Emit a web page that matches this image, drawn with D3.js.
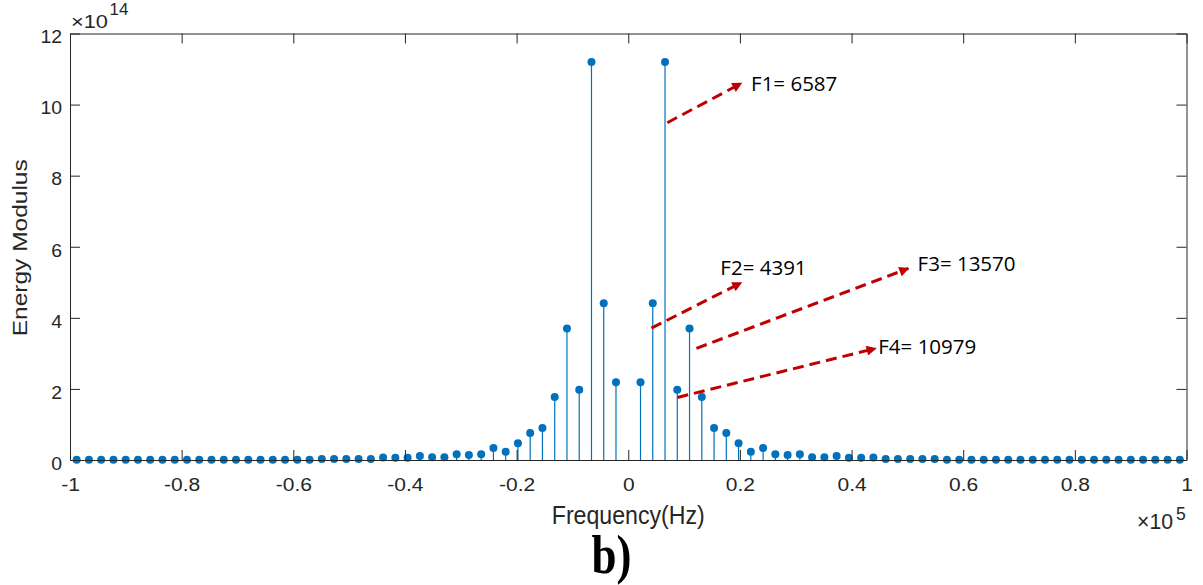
<!DOCTYPE html>
<html>
<head>
<meta charset="utf-8">
<script src="https://cdn.jsdelivr.net/npm/d3@7"></script>
<style>
  body { margin: 0; background: #fff; }
  svg { display: block; }
</style>
</head>
<body>
<div id="chart"></div>
<script>
// frequency bins in Hz (bin width ~2195.7 Hz, the DC bin is not plotted)
const freqs = [
  -98807, -96611, -94415, -92219, -90024, -87828, -85632, -83437, -81241, -79045,
  -76850, -74654, -72458, -70262, -68067, -65871, -63675, -61480, -59284, -57088,
  -54893, -52697, -50501, -48305, -46110, -43914, -41718, -39523, -37327, -35131,
  -32936, -30740, -28544, -26348, -24153, -21957, -19761, -17566, -15370, -13174,
  -10979, -8783, -6587, -4391, -2196,
  2196, 4391, 6587, 8783, 10979, 13174, 15370, 17566, 19761, 21957,
  24153, 26348, 28544, 30740, 32936, 35131, 37327, 39523, 41718, 43914,
  46110, 48305, 50501, 52697, 54893, 57088, 59284, 61480, 63675, 65871,
  68067, 70262, 72458, 74654, 76850, 79045, 81241, 83437, 85632, 87828,
  90024, 92219, 94415, 96611, 98807
];

// energy modulus, in units of 10^14
const energy = [
  0.01, 0.01, 0.01, 0.01, 0.01, 0.01, 0.01, 0.01, 0.01, 0.01,
  0.01, 0.01, 0.01, 0.01, 0.01, 0.01, 0.01, 0.01, 0.01, 0.01,
  0.03, 0.03, 0.03, 0.03, 0.03, 0.07, 0.06, 0.06, 0.11, 0.08,
  0.08, 0.16, 0.14, 0.16, 0.34, 0.23, 0.47, 0.76, 0.90, 1.77,
  3.70, 1.98, 11.2, 4.41, 2.19,
  2.19, 4.41, 11.2, 1.98, 3.70, 1.77, 0.90, 0.76, 0.47, 0.23,
  0.34, 0.16, 0.14, 0.16, 0.08, 0.08, 0.11, 0.06, 0.06, 0.07,
  0.03, 0.03, 0.03, 0.03, 0.03, 0.01, 0.01, 0.01, 0.01, 0.01,
  0.01, 0.01, 0.01, 0.01, 0.01, 0.01, 0.01, 0.01, 0.01, 0.01,
  0.01, 0.01, 0.01, 0.01, 0.01
];

const xTicks = [-100000, -80000, -60000, -40000, -20000, 0, 20000, 40000, 60000, 80000, 100000];
const xTickLabels = ['-1', '-0.8', '-0.6', '-0.4', '-0.2', '0', '0.2', '0.4', '0.6', '0.8', '1'];
const yTicks = [0, 2, 4, 6, 8, 10, 12];
const yTickLabels = ['0', '2', '4', '6', '8', '10', '12'];

// hand drawn annotations: [frequency Hz, energy x10^14]
const noteLabels = ['F1= 6587', 'F2= 4391', 'F3= 13570', 'F4= 10979'];
const noteFrom = [[7000, 9.49], [4150, 3.71], [12210, 3.14], [8810, 1.76]];
const noteTo = [[20270, 10.60], [20270, 4.99], [50170, 5.39], [44320, 3.14]];
const noteAt = [[22000, 10.39], [16500, 5.21], [51830, 5.33], [44790, 2.97]];

const width = 1203, height = 585;
const plot = { left: 70, right: 1186.5, top: 33.5, bottom: 460 };
const axisColor = '#262626';
const stemColor = '#0072BD';
const noteColor = '#C00000';
const font = '"Liberation Sans", Arial, sans-serif';

const svg = d3.select('#chart').append('svg')
    .attr('width', width)
    .attr('height', height);

svg.append('rect').attr('width', width).attr('height', height).attr('fill', '#fff');

const x = d3.scaleLinear().domain([-100000, 100000]).range([plot.left, plot.right]);
const y = d3.scaleLinear().domain([0, 12]).range([plot.bottom, plot.top]);

// stretch a text to k times its natural width
function stretch(sel, k) {
    sel.each(function () {
        const w = this.getComputedTextLength();
        d3.select(this).attr('textLength', w * k).attr('lengthAdjust', 'spacingAndGlyphs');
    });
}

// stems
const pts = freqs.map((f, i) => ({ f, v: energy[i] }));

svg.append('g')
    .selectAll('line')
    .data(pts)
    .join('line')
    .attr('x1', d => x(d.f))
    .attr('x2', d => x(d.f))
    .attr('y1', y(0))
    .attr('y2', d => y(d.v))
    .attr('stroke', stemColor)
    .attr('stroke-width', 1.2);

svg.append('g')
    .selectAll('circle')
    .data(pts)
    .join('circle')
    .attr('cx', d => x(d.f))
    .attr('cy', d => y(d.v))
    .attr('r', 4)
    .attr('fill', stemColor);

// axes (box with inward ticks)
const xAxis = d3.axisBottom(x)
    .tickValues(xTicks)
    .tickFormat((d, i) => xTickLabels[i])
    .tickSizeInner(-10)
    .tickSizeOuter(0)
    .tickPadding(18.5);

const yAxis = d3.axisLeft(y)
    .tickValues(yTicks)
    .tickFormat((d, i) => yTickLabels[i])
    .tickSizeInner(-10)
    .tickSizeOuter(0)
    .tickPadding(8);

const gx = svg.append('g').attr('transform', `translate(0,${plot.bottom})`).call(xAxis);
const gy = svg.append('g').attr('transform', `translate(${plot.left},0)`).call(yAxis);
const gt = svg.append('g').attr('transform', `translate(0,${plot.top})`)
    .call(d3.axisTop(x).tickValues(xTicks).tickFormat('').tickSizeInner(-10).tickSizeOuter(0));
const gr = svg.append('g').attr('transform', `translate(${plot.right},0)`)
    .call(d3.axisRight(y).tickValues(yTicks).tickFormat('').tickSizeInner(-10).tickSizeOuter(0));

[gx, gy, gt, gr].forEach(g => {
    g.select('.domain').attr('stroke', axisColor).attr('stroke-width', 1);
    g.selectAll('.tick line').attr('stroke', axisColor).attr('stroke-width', 1);
    g.selectAll('.tick text')
        .attr('fill', axisColor)
        .attr('font-family', font);
});

gx.selectAll('.tick text').attr('font-size', 17.5);
stretch(gx.selectAll('.tick text'), 1.2);
gy.selectAll('.tick text').attr('font-size', 18.5).attr('dy', '0.5em');
stretch(gy.selectAll('.tick text'), 1.05);

// axis labels
svg.append('text')
    .attr('x', (plot.left + plot.right) / 2)
    .attr('y', 523.5)
    .attr('text-anchor', 'middle')
    .attr('font-family', font)
    .attr('font-size', 25.5)
    .attr('fill', axisColor)
    .attr('textLength', 153)
    .attr('lengthAdjust', 'spacingAndGlyphs')
    .text('Frequency(Hz)');

svg.append('text')
    .attr('transform', `translate(27,${(plot.top + plot.bottom) / 2 + 1}) rotate(-90)`)
    .attr('text-anchor', 'middle')
    .attr('font-family', font)
    .attr('font-size', 19.5)
    .attr('fill', axisColor)
    .attr('textLength', 177)
    .attr('lengthAdjust', 'spacingAndGlyphs')
    .text('Energy Modulus');

// exponent labels
svg.append('text')
    .attr('x', plot.left + 1).attr('y', 28)
    .attr('font-family', font).attr('font-size', 19).attr('fill', axisColor)
    .attr('textLength', 37).attr('lengthAdjust', 'spacingAndGlyphs')
    .text('\u00d710');
svg.append('text')
    .attr('x', 109.5).attr('y', 15)
    .attr('font-family', font).attr('font-size', 17).attr('fill', axisColor)
    .text('14');

svg.append('text')
    .attr('x', 1137).attr('y', 528.5)
    .attr('font-family', font).attr('font-size', 21.5).attr('fill', axisColor)
    .attr('textLength', 36).attr('lengthAdjust', 'spacingAndGlyphs')
    .text('\u00d710');
svg.append('text')
    .attr('x', 1176).attr('y', 519.5)
    .attr('font-family', font).attr('font-size', 17.5).attr('fill', axisColor)
    .text('5');

// panel caption
svg.append('text')
    .attr('x', 611.5).attr('y', 573)
    .attr('text-anchor', 'middle')
    .attr('font-family', '"Liberation Serif", "DejaVu Serif", serif')
    .attr('font-weight', 'bold')
    .attr('font-size', 54)
    .attr('fill', '#000')
    .attr('textLength', 40)
    .attr('lengthAdjust', 'spacingAndGlyphs')
    .text('b)');

// annotations
svg.append('defs').append('marker')
    .attr('id', 'arrow')
    .attr('viewBox', '0 0 10 10')
    .attr('refX', 9)
    .attr('refY', 5)
    .attr('markerWidth', 12)
    .attr('markerHeight', 10)
    .attr('markerUnits', 'userSpaceOnUse')
    .attr('orient', 'auto')
    .append('path')
    .attr('d', 'M0,0 L10,5 L0,10 Z')
    .attr('fill', noteColor);

const notes = noteLabels.map((label, i) => ({ label, from: noteFrom[i], to: noteTo[i], at: noteAt[i] }));

svg.append('g')
    .selectAll('line')
    .data(notes)
    .join('line')
    .attr('x1', d => x(d.from[0]))
    .attr('y1', d => y(d.from[1]))
    .attr('x2', d => x(d.to[0]))
    .attr('y2', d => y(d.to[1]))
    .attr('stroke', noteColor)
    .attr('stroke-width', 3)
    .attr('stroke-dasharray', '11,6')
    .attr('marker-end', 'url(#arrow)');

svg.append('g')
    .selectAll('text')
    .data(notes)
    .join('text')
    .attr('x', d => x(d.at[0]))
    .attr('y', d => y(d.at[1]))
    .attr('font-family', '"Open Sans", "Noto Sans", sans-serif')
    .attr('font-size', 20.5)
    .attr('fill', '#000')
    .text(d => d.label);
</script>
</body>
</html>
